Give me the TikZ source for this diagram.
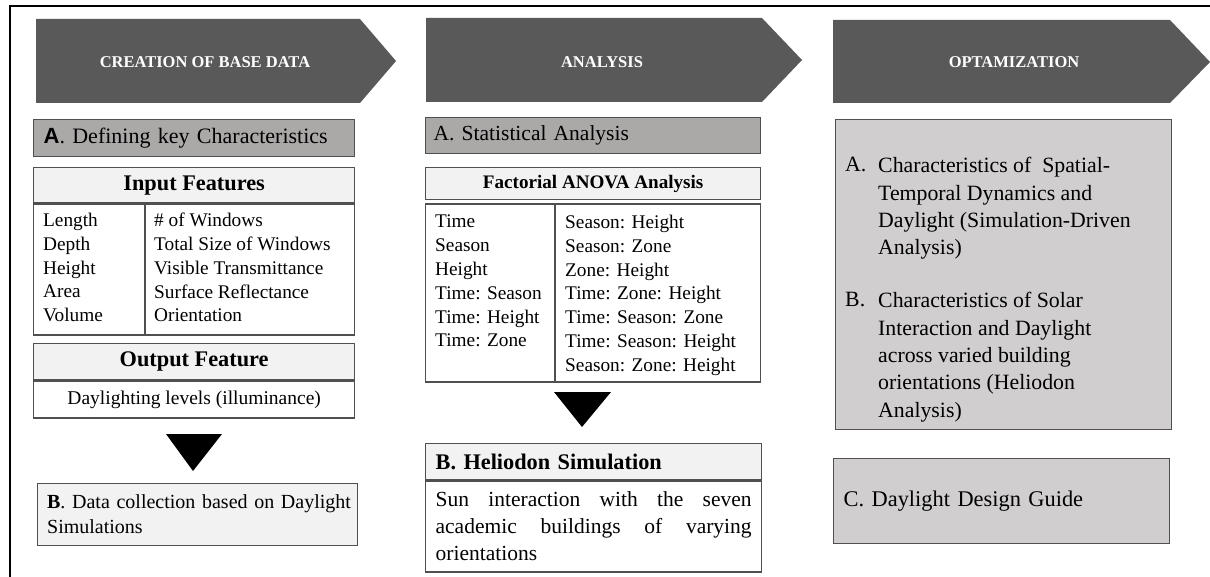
\documentclass[tikz,border=0pt]{standalone}
\usepackage{fontspec}
\setmainfont{Liberation Serif}
\setsansfont{Liberation Sans}
\usepackage{tikz}
\usetikzlibrary{positioning, calc}

\definecolor{headgrey}{RGB}{89,89,89}
\definecolor{edgegrey}{RGB}{80,80,80}
\definecolor{midgrey}{RGB}{171,168,168}
\definecolor{paleGrey}{RGB}{242,242,242}
\definecolor{optgrey}{RGB}{208,206,206}

\begin{document}
\begin{tikzpicture}[x=1pt, y=-1pt,
    headtxt/.style={text=white, inner sep=0pt, font=\fontsize{16.5}{20}\selectfont\bfseries},
    stagebox/.style={draw=edgegrey, line width=1.3pt, anchor=north west, inner xsep=10pt, inner ysep=0pt, align=left},
    headcell/.style={stagebox, fill=paleGrey, align=center, font=\fontsize{22.3}{26}\selectfont\bfseries},
    cellbox/.style={stagebox, fill=white},
    rowtxt/.style={anchor=north west, inner sep=0pt, align=left, font=\fontsize{19.3}{23.8}\selectfont},
    optlist/.style={anchor=north west, inner sep=0pt, align=left, font=\fontsize{21.8}{27.3}\selectfont}]

    % Page frame
    \useasboundingbox (0,0) rectangle (1210,577);
    \draw[line width=2.2pt] (10,577) -- (10,6) -- (1210,6);

    % Stage arrows
    \fill[headgrey] (36,19) -- (360,19) -- (396,61) -- (360,103) -- (36,103) -- cycle;
    \node[headtxt] (hdBase) at (205,62) {CREATION OF BASE DATA};
    \fill[headgrey] (426,18) -- (762,18) -- (802,60) -- (762,102) -- (426,102) -- cycle;
    \node[headtxt] (hdAnalysis) at (602,62) {ANALYSIS};
    \fill[headgrey] (833,20) -- (1170,20) -- (1210,62) -- (1170,103) -- (833,103) -- cycle;
    \node[headtxt] (hdOpt) at (1014,62) {OPTAMIZATION};

    % Column 1: base data
    \node[stagebox, fill=midgrey, text width=301pt, minimum height=37pt, font=\fontsize{22}{26}\selectfont] (defA) at (33,119) {\textsf{\textbf{A}}. Defining key Characteristics};

    \node[headcell, minimum width=321pt, minimum height=35pt] (inHead) at (33,167) {Input Features};
    \node[cellbox, minimum width=321pt, minimum height=131pt, below=0pt of inHead] (inBody) {};
    \draw[edgegrey, line width=1.3pt] ($(inBody.north west)+(112,0)$) -- ($(inBody.south west)+(112,0)$);
    \node[rowtxt] (inLeft) at (43,213) {Length\\Depth\\Height\\Area\\Volume};
    \node[rowtxt] (inRight) at (154,213) {\# of Windows\\Total Size of Windows\\Visible Transmittance\\Surface Reflectance\\Orientation};

    \node[headcell, minimum width=321pt, minimum height=36pt] (outHead) at (33,343) {Output Feature};
    \node[cellbox, minimum width=321pt, minimum height=37pt, align=center, font=\fontsize{19.5}{23}\selectfont, below=0pt of outHead] (outBody) {Daylighting levels (illuminance)};

    % Down marker
    \fill (166,434) -- (222,434) -- (193,471) -- cycle;

    \node[stagebox, fill=paleGrey, text width=301pt, inner xsep=9.5pt, minimum height=62pt, font=\fontsize{20}{25}\selectfont] (dataB) at (37,483) {\mbox{\textbf{B}. Data collection based on Daylight}\\Simulations};

    % Column 2: analysis
    \node[stagebox, fill=midgrey, text width=319pt, inner xsep=8pt, minimum height=36pt, font=\fontsize{21.5}{25}\selectfont] (statA) at (425,117) {A. Statistical Analysis};

    \node[headcell, minimum width=335pt, minimum height=32pt, font=\fontsize{19.1}{23}\selectfont\bfseries] (facHead) at (425,167) {Factorial ANOVA Analysis};
    \node[cellbox, minimum width=335pt, minimum height=178pt, below=3pt of facHead] (facBody) {};
    \draw[edgegrey, line width=1.3pt] ($(facBody.north west)+(130,0)$) -- ($(facBody.south west)+(130,0)$);
    \node[rowtxt] (facLeft) at (435,215) {Time\\Season\\Height\\Time: Season\\Time: Height\\Time: Zone};
    \node[rowtxt] (facRight) at (565,215) {Season: Height\\Season: Zone\\Zone: Height\\Time: Zone: Height\\Time: Season: Zone\\Time: Season: Height\\Season: Zone: Height};

    % Down marker
    \fill (554,392) -- (611,392) -- (582,427) -- cycle;

    \node[headcell, text width=316pt, align=left, minimum height=36pt] (helHead) at (425,443) {B. Heliodon Simulation};
    \node[cellbox, text width=316pt, align=justify, minimum height=91pt, font=\fontsize{21.5}{27}\selectfont, below=0pt of helHead] (helBody) {Sun interaction with the seven\linebreak academic buildings of varying\linebreak orientations};

    % Column 3: optimization
    \node[stagebox, fill=optgrey, minimum width=336pt, minimum height=310pt] (optAB) at (835,119) {};
    \node[optlist] (labA) at (845,157.3) {A.};
    \node[optlist] (itemA) at (878,157.3) {Characteristics of\ \ Spatial-\\Temporal Dynamics and\\Daylight (Simulation-Driven\\Analysis)};
    \node[optlist] (labB) at (845,292.3) {B.};
    \node[optlist] (itemB) at (878,292.3) {Characteristics of Solar\\Interaction and Daylight\\across varied building\\orientations (Heliodon\\Analysis)};

    \node[stagebox, fill=optgrey, text width=316pt, minimum height=85pt, font=\fontsize{22.4}{26}\selectfont] (guideC) at (833,458) {C. Daylight Design Guide};
\end{tikzpicture}
\end{document}
